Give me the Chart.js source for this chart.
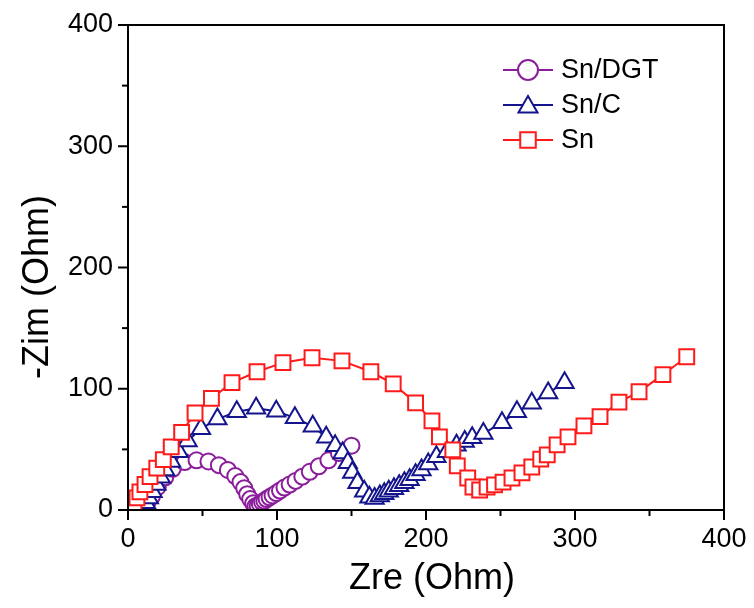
<!DOCTYPE html>
<html>
<head>
<meta charset="utf-8">
<script src="https://cdn.jsdelivr.net/npm/chart.js@4.4.0/dist/chart.umd.min.js"></script>
<style>
html, body { margin: 0; padding: 0; background: #fff; }
#wrap { width: 754px; height: 608px; }
</style>
</head>
<body>
<div id="wrap"><canvas id="chart" width="754" height="608"></canvas></div>
<script>
// Nyquist data (Ohm)
const seriesNames = ['Sn/DGT', 'Sn/C', 'Sn'];

const dgtZre = [10, 13, 16, 20, 25, 30, 38, 46, 54, 61, 67, 72, 75.5, 78, 80, 82, 84, 85.5, 87, 88.5, 90, 91.5, 93, 95, 97, 99.5, 102, 105, 108.5, 112.5, 117, 122, 128, 134.5, 141.5, 150];
const dgtZim = [1, 6, 11, 19, 27, 34, 39.5, 41, 40, 37, 33, 28, 23, 18, 13, 9, 5.5, 3, 3.5, 5, 6.5, 7.5, 9, 10.5, 12, 14, 16, 18.5, 21, 24, 27.5, 31.5, 36, 41, 47, 53];

const cZre = [10, 12, 14, 16.5, 19, 22, 25, 29, 34, 40, 49, 60, 73, 86, 99.5, 112, 124, 133, 139, 144, 147.5, 150.5, 154, 158.5, 162, 165.5, 169, 172, 175, 178.5, 182, 185.5, 189, 193, 197, 201.5, 207, 214, 220.5, 226, 231, 238.5, 251, 261, 271, 282, 293];
const cZim = [2, 6, 10, 15, 21, 27, 33, 40, 48, 57, 67, 75, 81, 84, 81.5, 76, 69, 60, 53, 47, 39, 31, 22.5, 15.5, 10.5, 9.5, 11.5, 13.5, 15.5, 17.5, 20, 22.5, 25, 29, 33, 38, 44, 48, 53.5, 56.5, 59.5, 63, 72, 81, 88, 96.5, 105];

const snZre = [4, 6, 8, 11.4, 14.8, 19.3, 23.7, 29, 36, 45, 56, 69.8, 86.6, 104, 123.5, 143.6, 163, 178, 193, 204, 209, 218, 221, 228, 231.5, 236, 241, 246, 251.7, 257.7, 264.4, 271, 277, 281.4, 288, 295.3, 306, 316.8, 329.5, 343, 359, 375];
const snZim = [5, 10, 15, 21, 27.5, 34.5, 41.5, 52, 64, 80, 92, 105, 114, 121.5, 125.6, 123, 114, 104, 88.4, 73.5, 60.3, 49.6, 36.4, 26.4, 19, 16.5, 19, 20.7, 23, 26.4, 30.6, 35.5, 42, 45.5, 53.7, 60.3, 69.4, 77, 89, 97.5, 111.6, 126.4];

const xTicks = [0, 100, 200, 300, 400];
const yTicks = [0, 100, 200, 300, 400];

const colors = ['#8a1e9a', '#14148c', '#ff1a1a'];
const markers = ['circle', 'triangle', 'rect'];
const markerSize = [8, 10.5, 10.5];
const legendSize = [10, 11, 11];

function toPoints(xs, ys) {
  return xs.map((x, i) => ({ x: x, y: ys[i] }));
}

const FONT = '"Liberation Sans", Arial, sans-serif';

const framePlugin = {
  id: 'frame',
  afterDraw(chart) {
    const ctx = chart.ctx;
    const a = chart.chartArea;
    const xs = chart.scales.x;
    const ys = chart.scales.y;
    ctx.save();
    ctx.strokeStyle = '#000';
    ctx.lineWidth = 2;
    ctx.strokeRect(a.left, a.top, a.right - a.left, a.bottom - a.top);
    // tick marks, major every 100, minor every 50
    for (let v = 0; v <= 400; v += 50) {
      const len = v % 100 === 0 ? 10 : 6;
      const px = xs.getPixelForValue(v);
      ctx.beginPath();
      ctx.moveTo(px, a.bottom);
      ctx.lineTo(px, a.bottom + len);
      ctx.stroke();
      const py = ys.getPixelForValue(v);
      ctx.beginPath();
      ctx.moveTo(a.left, py);
      ctx.lineTo(a.left - len, py);
      ctx.stroke();
    }
    // axis titles
    ctx.fillStyle = '#000';
    ctx.font = '36px ' + FONT;
    ctx.textAlign = 'center';
    ctx.textBaseline = 'middle';
    ctx.fillText('Zre (Ohm)', 432, 579);
    ctx.translate(38, 287);
    ctx.rotate(-Math.PI / 2);
    ctx.fillText('-Zim (Ohm)', 0, 0);
    ctx.restore();

    // legend: line + marker + label
    ctx.save();
    ctx.font = '27px ' + FONT;
    ctx.textAlign = 'left';
    ctx.textBaseline = 'middle';
    seriesNames.forEach((name, i) => {
      const y = 70 + i * 35;
      ctx.strokeStyle = colors[i];
      ctx.lineWidth = 2;
      ctx.beginPath();
      ctx.moveTo(503, y);
      ctx.lineTo(553, y);
      ctx.stroke();
      ctx.fillStyle = '#fff';
      const yy = markers[i] === 'triangle' ? y + 2 : y;
      Chart.helpers.drawPoint(ctx, {
        pointStyle: markers[i],
        radius: legendSize[i],
        rotation: 0,
        borderWidth: 2
      }, 528, yy);
      ctx.fillStyle = '#000';
      ctx.fillText(name, 561, y + 1);
    });
    ctx.restore();
  }
};

const datasets = [
  toPoints(snZre, snZim),
  toPoints(cZre, cZim),
  toPoints(dgtZre, dgtZim)
];
const order = [2, 1, 0];

const chart = new Chart(document.getElementById('chart'), {
  type: 'scatter',
  data: {
    datasets: order.map((k, j) => ({
      label: seriesNames[k],
      data: datasets[j],
      showLine: true,
      borderColor: colors[k],
      borderWidth: 2,
      pointStyle: markers[k],
      pointRadius: markerSize[k],
      pointBorderWidth: 2,
      pointBackgroundColor: '#fff',
      pointBorderColor: colors[k],
      tension: 0
    }))
  },
  options: {
    responsive: false,
    devicePixelRatio: 1,
    animation: false,
    layout: { padding: { left: 0, top: 25, right: 30, bottom: 0 } },
    plugins: { legend: { display: false }, tooltip: { enabled: false } },
    scales: {
      x: {
        type: 'linear',
        min: 0,
        max: 400,
        afterBuildTicks: s => { s.ticks = xTicks.map(v => ({ value: v })); },
        afterFit: s => { s.height = 98; s.paddingLeft = 0; s.paddingRight = 0; },
        grid: { display: false, drawTicks: false },
        border: { display: false },
        ticks: { color: '#000', font: { family: FONT, size: 27 }, padding: 13, maxRotation: 0 }
      },
      y: {
        type: 'linear',
        min: 0,
        max: 400,
        afterBuildTicks: s => { s.ticks = yTicks.map(v => ({ value: v })); },
        afterFit: s => { s.width = 128; s.paddingTop = 0; s.paddingBottom = 0; },
        grid: { display: false, drawTicks: false },
        border: { display: false },
        ticks: { color: '#000', font: { family: FONT, size: 27 }, padding: 15 }
      }
    }
  },
  plugins: [framePlugin]
});
</script>
</body>
</html>
